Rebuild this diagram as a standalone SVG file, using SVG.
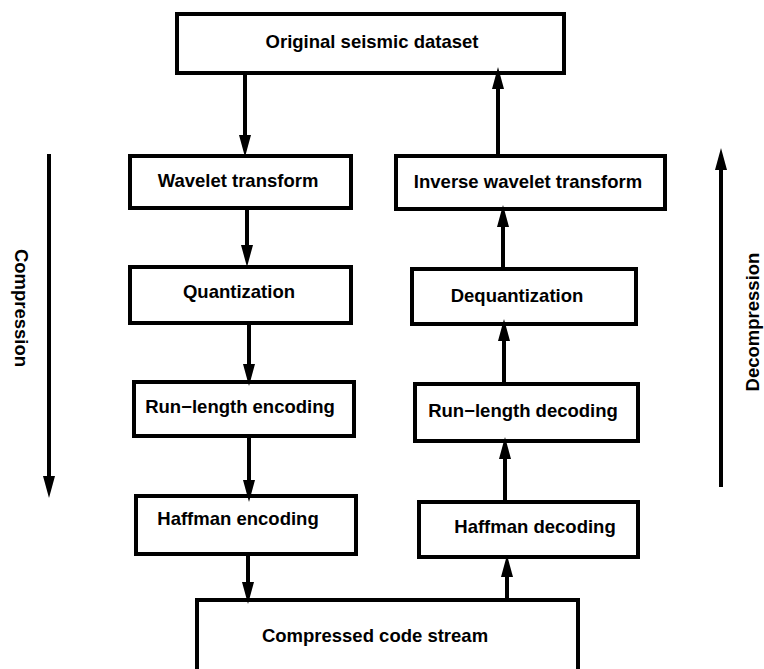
<svg xmlns="http://www.w3.org/2000/svg" width="764" height="669" viewBox="0 0 764 669">
<defs>
<style>
.box{fill:#fff;stroke:#000;stroke-width:4}
.lbl{font-family:"Liberation Sans",Arial,sans-serif;font-weight:bold;font-size:18.5px;fill:#000;text-anchor:middle}
.conn{stroke:#000;stroke-width:4;fill:none}
</style>
<marker id="ah" markerUnits="userSpaceOnUse" markerWidth="24" markerHeight="14" refX="8" refY="6" orient="auto">
<path d="M0,0 L22,6 L0,12 Z" fill="#000"/>
</marker>
</defs>
<rect width="764" height="669" fill="#fff"/>
<g id="n-original"><rect class="box" x="177" y="14" width="387" height="59"/><text class="lbl" x="372" y="48">Original seismic dataset</text></g>
<g id="n-wavelet"><rect class="box" x="130" y="156" width="221" height="52"/><text class="lbl" x="238" y="187">Wavelet transform</text></g>
<g id="n-quant"><rect class="box" x="130" y="267" width="221" height="56"/><text class="lbl" x="239" y="298">Quantization</text></g>
<g id="n-rle"><rect class="box" x="134" y="382" width="220" height="54"/><text class="lbl" x="240" y="413">Run−length encoding</text></g>
<g id="n-henc"><rect class="box" x="136" y="496" width="220" height="58"/><text class="lbl" x="238" y="525">Haffman encoding</text></g>
<g id="n-compressed"><rect class="box" x="197" y="600" width="381" height="90"/><text class="lbl" x="375" y="642">Compressed code stream</text></g>
<g id="n-iwt"><rect class="box" x="396" y="156" width="269" height="53"/><text class="lbl" x="528" y="188">Inverse wavelet transform</text></g>
<g id="n-deq"><rect class="box" x="412" y="269" width="224" height="55"/><text class="lbl" x="517" y="302">Dequantization</text></g>
<g id="n-rld"><rect class="box" x="415" y="384" width="223" height="57"/><text class="lbl" x="523" y="417">Run−length decoding</text></g>
<g id="n-hdec"><rect class="box" x="419" y="502" width="219" height="55"/><text class="lbl" x="535" y="533">Haffman decoding</text></g>
<g id="connectors">
<line class="conn" x1="245" y1="75" x2="245" y2="143" marker-end="url(#ah)"/>
<line class="conn" x1="247" y1="210" x2="247" y2="253" marker-end="url(#ah)"/>
<line class="conn" x1="249" y1="325" x2="249" y2="372" marker-end="url(#ah)"/>
<line class="conn" x1="249" y1="438" x2="249" y2="488" marker-end="url(#ah)"/>
<line class="conn" x1="248" y1="556" x2="248" y2="590" marker-end="url(#ah)"/>
<line class="conn" x1="507" y1="598" x2="507" y2="569" marker-end="url(#ah)"/>
<line class="conn" x1="505" y1="500" x2="505" y2="451" marker-end="url(#ah)"/>
<line class="conn" x1="504" y1="382" x2="504" y2="333" marker-end="url(#ah)"/>
<line class="conn" x1="503" y1="267" x2="503" y2="219" marker-end="url(#ah)"/>
<line class="conn" x1="498" y1="154" x2="498" y2="81" marker-end="url(#ah)"/>
</g>
<g id="side-labels">
<line class="conn" x1="49" y1="154" x2="49" y2="484" marker-end="url(#ah)"/>
<text class="lbl" transform="translate(15,308) rotate(90)" x="0" y="0">Compression</text>
<line class="conn" x1="721" y1="487" x2="721" y2="162" marker-end="url(#ah)"/>
<text class="lbl" transform="translate(759,322) rotate(-90)" x="0" y="0">Decompression</text>
</g>
</svg>
